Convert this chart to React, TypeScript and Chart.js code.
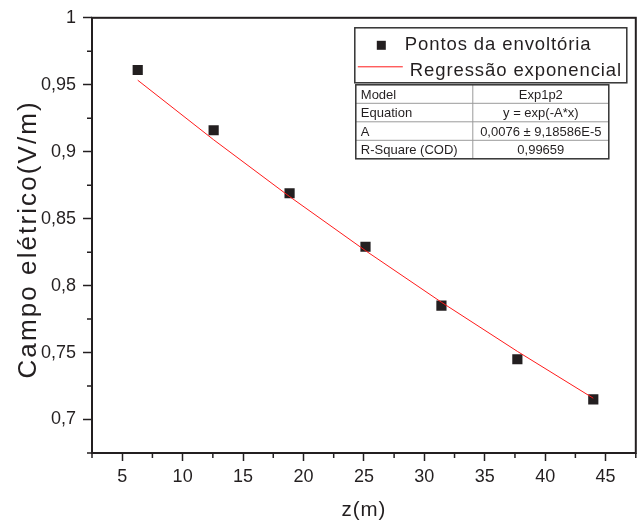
import React, { useEffect, useRef } from 'react';
import { Chart, registerables } from 'chart.js';

Chart.register(...registerables);

// ---- data ----
const zValues = [6.2832, 12.5664, 18.8496, 25.1327, 31.4159, 37.6991, 43.9823];
const campoValues = [0.961, 0.916, 0.869, 0.829, 0.785, 0.745, 0.715];
const fitValues = [0.9534, 0.9089, 0.8665, 0.8261, 0.7876, 0.7509, 0.7159];

const xMajorTicks = [5, 10, 15, 20, 25, 30, 35, 40, 45];
const xMinorTicks = [2.5, 7.5, 12.5, 17.5, 22.5, 27.5, 32.5, 37.5, 42.5, 47.5];
const yMajorTicks = [0.7, 0.75, 0.8, 0.85, 0.9, 0.95, 1];
const yMinorTicks = [0.675, 0.725, 0.775, 0.825, 0.875, 0.925, 0.975];

const seriesLabels = ['Pontos da envoltória', 'Regressão exponencial'];
const tableRows = [
  ['Model', 'Exp1p2'],
  ['Equation', 'y = exp(-A*x)'],
  ['A', '0,0076 ± 9,18586E-5'],
  ['R-Square (COD)', '0,99659'],
];
const xTitle = 'z(m)';
const yTitle = 'Campo elétrico(V/m)';

const INK = '#231f20';
const RED = '#ff1a1a';
const FONT = '"Liberation Sans", Arial, Helvetica, sans-serif';

const fmt = (v: number) => String(v).replace('.', ',');

const decor = {
  id: 'decor',
  afterDraw(chart: any) {
    const { ctx, chartArea: a, scales } = chart;
    const xs = scales.x;
    const ys = scales.y;
    ctx.save();

    // minor ticks
    ctx.strokeStyle = INK;
    ctx.lineWidth = 1.5;
    ctx.beginPath();
    xMinorTicks.forEach((v) => {
      const px = xs.getPixelForValue(v);
      ctx.moveTo(px, a.bottom);
      ctx.lineTo(px, a.bottom + 5);
    });
    yMinorTicks.forEach((v) => {
      const py = ys.getPixelForValue(v);
      ctx.moveTo(a.left, py);
      ctx.lineTo(a.left - 5, py);
    });
    ctx.stroke();

    // frame
    ctx.lineWidth = 2;
    ctx.strokeRect(a.left, a.top, a.right - a.left, a.bottom - a.top);

    // axis titles
    ctx.fillStyle = INK;
    (ctx as any).letterSpacing = '1px';
    ctx.font = `20.5px ${FONT}`;
    ctx.textAlign = 'center';
    ctx.textBaseline = 'alphabetic';
    ctx.fillText(xTitle, (a.left + a.right) / 2, 516);

    ctx.save();
    (ctx as any).letterSpacing = '2.1px';
    ctx.font = `26px ${FONT}`;
    ctx.translate(35.5, (a.top + a.bottom) / 2 + 4);
    ctx.rotate(-Math.PI / 2);
    ctx.fillText(yTitle, 0, 0);
    ctx.restore();

    // legend box
    const lx = a.right - 281;
    const ly = a.top + 10;
    const lw = 272;
    const lh = 55;
    ctx.fillStyle = '#ffffff';
    ctx.fillRect(lx, ly, lw, lh);
    ctx.strokeStyle = '#333333';
    ctx.lineWidth = 1.5;
    ctx.strokeRect(lx, ly, lw, lh);

    ctx.fillStyle = INK;
    ctx.fillRect(lx + 22, ly + 13, 9, 9);
    ctx.strokeStyle = RED;
    ctx.lineWidth = 1;
    ctx.beginPath();
    ctx.moveTo(lx + 3, ly + 39);
    ctx.lineTo(lx + 48, ly + 39);
    ctx.stroke();

    (ctx as any).letterSpacing = '0.9px';
    ctx.font = `18.5px ${FONT}`;
    ctx.textAlign = 'left';
    ctx.fillStyle = INK;
    ctx.fillText(seriesLabels[0], lx + 50, ly + 22);
    ctx.fillText(seriesLabels[1], lx + 55, ly + 47.7);

    // table
    (ctx as any).letterSpacing = '0px';
    const tx = a.right - 280;
    const ty = a.top + 67;
    const tw = 253;
    const rh = 18.5;
    const cx = tx + 117;
    ctx.fillStyle = '#ffffff';
    ctx.fillRect(tx, ty, tw, rh * tableRows.length);
    ctx.strokeStyle = '#9a9a9a';
    ctx.lineWidth = 1;
    ctx.beginPath();
    for (let i = 1; i < tableRows.length; i++) {
      ctx.moveTo(tx, ty + rh * i);
      ctx.lineTo(tx + tw, ty + rh * i);
    }
    ctx.moveTo(cx, ty);
    ctx.lineTo(cx, ty + rh * tableRows.length);
    ctx.stroke();
    ctx.strokeStyle = '#333333';
    ctx.lineWidth = 1.5;
    ctx.strokeRect(tx, ty, tw, rh * tableRows.length);

    ctx.font = `13px ${FONT}`;
    ctx.fillStyle = INK;
    tableRows.forEach((row, i) => {
      const by = ty + rh * (i + 1) - 4.5;
      ctx.textAlign = 'left';
      ctx.fillText(row[0], tx + 5, by);
      ctx.textAlign = 'center';
      ctx.fillText(row[1], (cx + tx + tw) / 2, by);
    });

    ctx.restore();
  },
};

export default function App() {
  const ref = useRef<HTMLCanvasElement | null>(null);

  useEffect(() => {
    document.body.style.margin = '0';
    const canvas = ref.current;
    if (!canvas) return;
    const chart = new Chart(canvas, {
      type: 'scatter',
      data: {
        datasets: [
          {
            type: 'line',
            label: seriesLabels[1],
            data: zValues.map((x, i) => ({ x, y: fitValues[i] })),
            borderColor: RED,
            borderWidth: 1,
            pointRadius: 0,
            fill: false,
            tension: 0,
            order: 0,
          } as any,
          {
            type: 'scatter',
            label: seriesLabels[0],
            data: zValues.map((x, i) => ({ x, y: campoValues[i] })),
            pointStyle: 'rect',
            pointRadius: 7.2,
            backgroundColor: INK,
            borderWidth: 0,
            order: 1,
          } as any,
        ],
      },
      options: {
        responsive: false,
        animation: false,
        devicePixelRatio: 1,
        layout: { padding: { left: 0, top: 14, right: 7, bottom: 0 } },
        plugins: { legend: { display: false }, tooltip: { enabled: false } },
        scales: {
          x: {
            type: 'linear',
            min: 2.5,
            max: 47.5,
            afterBuildTicks: (s: any) => {
              s.ticks = xMajorTicks.map((value) => ({ value }));
            },
            afterFit: (s: any) => {
              s.height = 73;
            },
            grid: {
              display: true,
              drawOnChartArea: false,
              drawTicks: true,
              tickLength: 8,
              tickWidth: 1.5,
              tickColor: INK,
            },
            border: { display: false },
            ticks: {
              autoSkip: false,
              maxRotation: 0,
              padding: 5,
              color: INK,
              font: { family: FONT, size: 18 },
              callback: (v: any) => fmt(Number(v)),
            },
          },
          y: {
            type: 'linear',
            min: 0.675,
            max: 1,
            afterBuildTicks: (s: any) => {
              s.ticks = yMajorTicks.map((value) => ({ value }));
            },
            afterFit: (s: any) => {
              s.width = 92;
            },
            grid: {
              display: true,
              drawOnChartArea: false,
              drawTicks: true,
              tickLength: 9,
              tickWidth: 1.5,
              tickColor: INK,
            },
            border: { display: false },
            ticks: {
              autoSkip: false,
              padding: 7,
              color: INK,
              font: { family: FONT, size: 18 },
              callback: (v: any) => fmt(Number(v)),
            },
          },
        },
      },
      plugins: [decor],
    } as any);
    return () => chart.destroy();
  }, []);

  return (
    <div style={{ width: 643, height: 526, background: '#fff' }}>
      <canvas ref={ref} width={643} height={526} style={{ display: 'block' }} />
    </div>
  );
}
